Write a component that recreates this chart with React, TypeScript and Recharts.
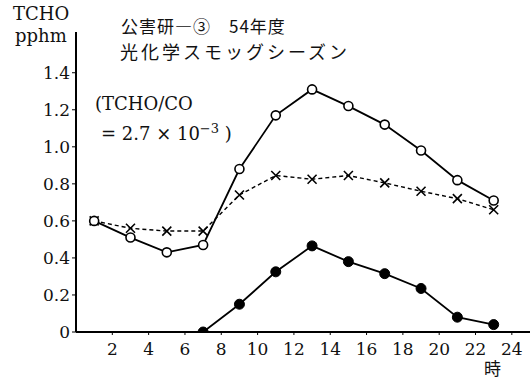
import React from 'react'
import { LineChart, Line, XAxis, YAxis } from 'recharts'

// 時刻 (時)
const hours = [1, 3, 5, 7, 9, 11, 13, 15, 17, 19, 21, 23]
// 白丸 (実線)
const openCircle = [0.6, 0.51, 0.43, 0.47, 0.88, 1.17, 1.31, 1.22, 1.12, 0.98, 0.82, 0.71]
// × 印 (破線)
const crossMark = [0.6, 0.56, 0.545, 0.545, 0.74, 0.845, 0.825, 0.845, 0.805, 0.76, 0.72, 0.66]
// 黒丸 (実線)
const filledCircle = [null, null, null, 0, 0.15, 0.325, 0.465, 0.38, 0.315, 0.235, 0.08, 0.04]

const xTicks = [2, 4, 6, 8, 10, 12, 14, 16, 18, 20, 22, 24]
const yTicks = [0, 0.2, 0.4, 0.6, 0.8, 1.0, 1.2, 1.4]

const data = hours.map((h, i) => ({
  hour: h,
  open: openCircle[i],
  cross: crossMark[i],
  filled: filledCircle[i],
}))

const serif = "'DejaVu Serif', 'Liberation Serif', 'Times New Roman', serif"
const jp = "'Noto Sans CJK JP', sans-serif"

const CrossDot = (props: any) => {
  const { cx, cy, index } = props
  if (cx == null || cy == null) return <g key={index} />
  const s = 4.5
  return (
    <path
      key={index}
      d={`M${cx - s},${cy - s}L${cx + s},${cy + s}M${cx - s},${cy + s}L${cx + s},${cy - s}`}
      stroke="#000"
      strokeWidth={1.6}
      fill="none"
    />
  )
}

const label = (style: React.CSSProperties, text: React.ReactNode) => (
  <div style={{ position: 'absolute', whiteSpace: 'nowrap', lineHeight: 1, color: '#111', ...style }}>{text}</div>
)

export default function App() {
  return (
    <div style={{ position: 'absolute', left: 0, top: 0, width: 532, height: 380, background: '#fff' }}>
      <LineChart width={532} height={380} data={data} margin={{ top: 32, right: 2, bottom: 18, left: 0 }}>
        <XAxis
          dataKey="hour"
          type="number"
          domain={[0, 25]}
          ticks={xTicks}
          allowDataOverflow
          axisLine={{ stroke: '#000', strokeWidth: 2 }}
          tickLine={{ stroke: '#000' }}
          tickSize={3}
          tickMargin={8}
          height={30}
          tick={{ fill: '#111', fontSize: 17, fontFamily: serif }}
        />
        <YAxis
          type="number"
          domain={[0, 1.62]}
          ticks={yTicks}
          allowDataOverflow
          width={76}
          axisLine={{ stroke: '#000', strokeWidth: 2 }}
          tickLine={{ stroke: '#000' }}
          tickSize={4}
          tickMargin={2}
          tickFormatter={(v: number) => (v === 0 ? '0' : v.toFixed(1))}
          tick={{ fill: '#111', fontSize: 17, fontFamily: serif }}
        />
        <Line
          dataKey="cross"
          stroke="#000"
          strokeWidth={1.4}
          strokeDasharray="4 3"
          dot={CrossDot}
          isAnimationActive={false}
        />
        <Line
          dataKey="open"
          stroke="#000"
          strokeWidth={1.8}
          dot={{ r: 4.5, fill: '#fff', stroke: '#000', strokeWidth: 1.6 }}
          isAnimationActive={false}
        />
        <Line
          dataKey="filled"
          stroke="#000"
          strokeWidth={1.8}
          dot={{ r: 5, fill: '#000', stroke: '#000', strokeWidth: 1 }}
          isAnimationActive={false}
        />
      </LineChart>
      {label({ left: 13, top: 5, fontSize: 18, fontFamily: serif }, 'TCHO')}
      {label({ left: 15, top: 27, fontSize: 18, fontFamily: serif }, 'pphm')}
      {label({ left: 121, top: 17, fontSize: 17, fontFamily: jp, letterSpacing: 1 }, '公害研―③　54年度')}
      {label({ left: 120, top: 41.5, fontSize: 18, fontFamily: jp, letterSpacing: 3 }, '光化学スモッグシーズン')}
      {label({ left: 95, top: 95, fontSize: 18, fontFamily: serif }, '(TCHO/CO')}
      {label({ left: 101, top: 122, fontSize: 18, fontFamily: serif }, (
        <span>= 2.7 × 10<sup style={{ fontSize: 13 }}>−3</sup> )</span>
      ))}
      {label({ left: 484, top: 359, fontSize: 17, fontFamily: jp }, '時')}
    </div>
  )
}
